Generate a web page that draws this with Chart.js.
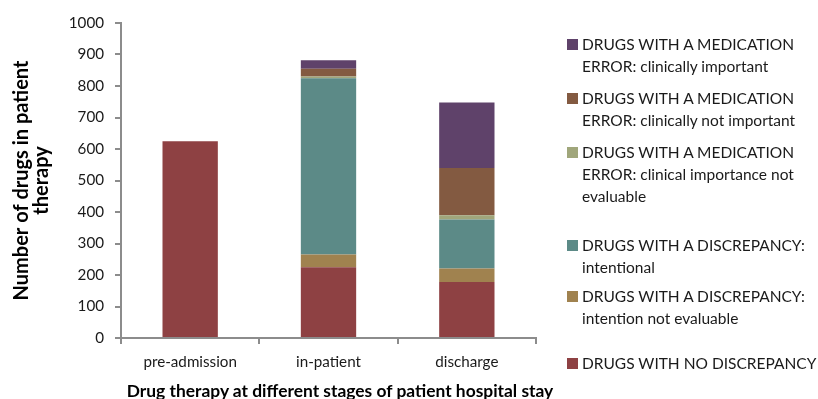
<!DOCTYPE html>
<html>
<head>
<meta charset="utf-8">
<script src="https://cdn.jsdelivr.net/npm/chart.js@4.4.1/dist/chart.umd.min.js"></script>
<style>
  html, body { margin: 0; padding: 0; background: #ffffff; }
  #wrap { position: relative; width: 818px; height: 399px; overflow: hidden; }
  #chart { position: absolute; left: 0; top: 0; }
  #overlay { position: absolute; left: 0; top: 0; width: 818px; height: 399px; font-family: Lato, "Open Sans", sans-serif; color: #1a1a1a; }
  #overlay .item { position: absolute; left: 567px; white-space: pre; line-height: 22px; padding-left: 15px; font-size: 15.5px; }
  #overlay .swatch { position: absolute; left: 0; top: 5.5px; width: 11px; height: 11px; }
  #xtitle { position: absolute; left: 340px; top: 390px; transform: translate(-50%, -50%); white-space: nowrap; font-weight: bold; font-size: 17.4px; color: #000; }
</style>
</head>
<body>
<div id="wrap">
  <canvas id="chart" width="818" height="399"></canvas>
  <div id="overlay">
    <div id="xtitle">Drug therapy at different stages of patient hospital stay</div>
  </div>
</div>
<script>
// Stages of the hospital stay
const stages = ['pre-admission', 'in-patient', 'discharge'];

// Number of drugs per category at each stage (stacked bottom to top)
const noDiscrepancy = [625, 225, 178];
const discrepancyUnevaluable = [0, 40, 43];
const discrepancyIntentional = [0, 560, 155];
const errorImportanceUnevaluable = [0, 5, 14];
const errorNotImportant = [0, 25, 150];
const errorImportant = [0, 27, 208];

const seriesNames = [
  'DRUGS WITH NO DISCREPANCY',
  'DRUGS WITH A DISCREPANCY:\nintention not evaluable',
  'DRUGS WITH A DISCREPANCY:\nintentional',
  'DRUGS WITH A MEDICATION\nERROR: clinical importance not\nevaluable',
  'DRUGS WITH A MEDICATION\nERROR: clinically not important',
  'DRUGS WITH A MEDICATION\nERROR: clinically important'
];
const seriesValues = [noDiscrepancy, discrepancyUnevaluable, discrepancyIntentional,
  errorImportanceUnevaluable, errorNotImportant, errorImportant];
const seriesColors = ['#8E4143', '#A0824F', '#5C8A87', '#A0A67B', '#835A41', '#5F426A'];

const yTicks = [0, 100, 200, 300, 400, 500, 600, 700, 800, 900, 1000];

const axisGrey = '#8c8c8c';
const fontFamily = 'Lato, "Open Sans", sans-serif';
const tickFont = { family: fontFamily, size: 15.2 };

new Chart(document.getElementById('chart'), {
  type: 'bar',
  data: {
    labels: stages,
    datasets: seriesValues.map((vals, i) => ({
      label: seriesNames[i],
      data: vals,
      backgroundColor: seriesColors[i],
      borderWidth: 0,
      barPercentage: 0.4,
      categoryPercentage: 1.0
    }))
  },
  options: {
    responsive: false,
    animation: false,
    layout: { padding: { left: 0, right: 282, top: 23, bottom: 0 } },
    plugins: { legend: { display: false }, tooltip: { enabled: false } },
    scales: {
      x: {
        stacked: true,
        offset: true,
        border: { display: true, color: axisGrey, width: 2 },
        grid: { display: true, drawOnChartArea: false, drawTicks: true, tickLength: 6, color: axisGrey, lineWidth: 2, offset: true },
        ticks: { color: '#1a1a1a', font: tickFont, padding: 9 },
        afterFit: (s) => { s.height = 61; }
      },
      y: {
        stacked: true,
        min: 0,
        max: 1000,
        afterBuildTicks: (s) => { s.ticks = yTicks.map(v => ({ value: v })); },
        border: { display: true, color: axisGrey, width: 2 },
        grid: { display: true, drawOnChartArea: false, drawTicks: true, tickLength: 6, color: axisGrey, lineWidth: 2 },
        ticks: { color: '#1a1a1a', font: tickFont, padding: 11, callback: (v) => String(v) },
        title: {
          display: true,
          text: ['Number of drugs in patient', 'therapy'],
          color: '#000',
          font: { family: fontFamily, size: 20, weight: 'bold', lineHeight: 1.0 },
          padding: { top: 12, bottom: 0 }
        },
        afterFit: (s) => { s.width = 121; }
      }
    }
  }
});

// Legend, listed top-down in reverse stacking order
const legendCenters = [363, 296, 245, 152, 98, 44];
const overlay = document.getElementById('overlay');
seriesNames.forEach((name, i) => {
  const item = document.createElement('div');
  item.className = 'item';
  item.style.top = (legendCenters[i] - 11) + 'px';
  const sw = document.createElement('span');
  sw.className = 'swatch';
  sw.style.background = seriesColors[i];
  item.appendChild(sw);
  item.appendChild(document.createTextNode(name));
  overlay.appendChild(item);
});
</script>
</body>
</html>
